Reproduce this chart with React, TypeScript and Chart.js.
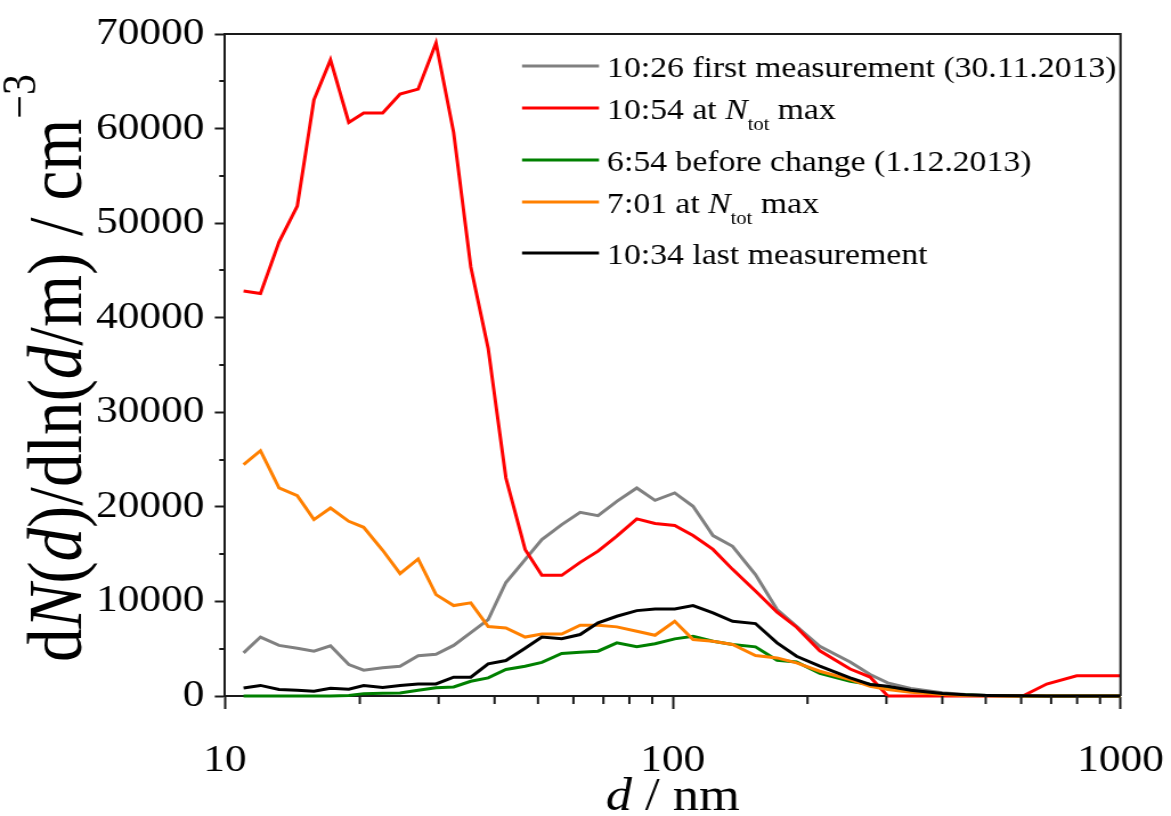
import React, { useEffect, useRef } from "react";
import { Chart, registerables } from "chart.js";

Chart.register(...registerables);

// ---------- DATA ----------
const diameters = [
  11.0, 12.0, 13.2, 14.5, 15.8, 17.2, 18.9, 20.4, 22.5, 24.6, 27.0, 29.6, 32.4, 35.4,
  38.7, 42.4, 46.8, 51.0, 56.5, 62.1, 68.1, 75.0, 83.1, 91.3, 101, 111, 123, 136, 153,
  171, 189, 213, 249, 276, 302, 340, 400, 450, 500, 605, 684, 798, 1000,
];

const firstMeasurement = [
  4560, 6230, 5350, 5050, 4740, 5300, 3330, 2730, 2980, 3150, 4260, 4420, 5350, 6700,
  8080, 12000, 14420, 16540, 18120, 19420, 19070, 20580, 22000, 20690, 21470, 20060,
  16960, 15830, 12840, 9140, 7380, 5260, 3600, 2270, 1390, 800, 340, 150, 80, 30, 10, 0, 0,
];

const ntotMaxDay1 = [
  42830, 42550, 48000, 51800, 63040, 67260, 60650, 61640, 61640, 63640, 64170, 69050,
  59600, 45360, 36760, 23050, 15500, 12760, 12760, 14130, 15320, 16900, 18730, 18240,
  18030, 16970, 15500, 13390, 11100, 8860, 7270, 4780, 2850, 2000, 0, 0, 0, 0, 0, 0,
  1265, 2140, 2140,
];

const beforeChange = [
  0, 0, 0, 0, 0, 0, 50, 250, 300, 330, 600, 860, 950, 1560, 1920, 2800, 3150, 3550,
  4490, 4630, 4740, 5620, 5200, 5520, 6040, 6320, 5790, 5440, 5200, 3780, 3600, 2400,
  1560, 1220, 900, 500, 200, 100, 40, 10, 0, 0, 0,
];

const ntotMaxDay2 = [
  24460, 25940, 22000, 21180, 18650, 19880, 18470, 17840, 15410, 12940, 14490, 10720,
  9560, 9850, 7350, 7200, 6230, 6550, 6550, 7480, 7480, 7310, 6850, 6420, 7900, 5970,
  5790, 5440, 4280, 4030, 3500, 2620, 1740, 1030, 690, 400, 160, 60, 20, 0, 0, 0, 0,
];

const lastMeasurement = [
  850, 1120, 690, 620, 510, 820, 720, 1110, 900, 1110, 1270, 1270, 1990, 1990, 3400,
  3750, 5050, 6230, 6060, 6500, 7730, 8430, 9030, 9210, 9210, 9560, 8790, 7900, 7660,
  5620, 4200, 3150, 1920, 1220, 1030, 600, 260, 120, 60, 20, 0, 0, 0,
];

const seriesLabels = [
  "10:26 first measurement (30.11.2013)",
  "10:54 at N_tot max",
  "6:54 before change (1.12.2013)",
  "7:01 at N_tot max",
  "10:34 last measurement",
];
const seriesValues = [firstMeasurement, ntotMaxDay1, beforeChange, ntotMaxDay2, lastMeasurement];
const seriesColors = ["#808080", "#ff0000", "#008000", "#ff8000", "#000000"];
const seriesOrder = [5, 4, 3, 2, 1];

const xMajorTicks = [10, 100, 1000];
const xMinorTicks = [20, 30, 40, 50, 60, 70, 80, 90, 200, 300, 400, 500, 600, 700, 800, 900];
const yMajorStep = 10000;
const yMinorTicks = [5000, 15000, 25000, 35000, 45000, 55000, 65000];
const yMax = 70000;

// ---------- STYLE ----------
// The figure is drawn on a narrower canvas and displayed stretched horizontally.
const DISPLAY_W = 1171;
const DISPLAY_H = 816;
const CANVAS_W = 1027;
const SX = DISPLAY_W / CANVAS_W;
const cx = (v: number) => v / SX; // display x -> canvas x

const SERIF = "'Liberation Serif', 'Times New Roman', Times, serif";
const TICK_SIZE = 38;
const XTITLE_SIZE = 46;
const YTITLE_SIZE = 67;
const LEGEND_SIZE = 29.6;
const AXIS_COLOR = "#1a1a1a";

type Seg = { t: string; style: "n" | "i" | "sub" | "sup" };

function setFont(ctx: CanvasRenderingContext2D, s: Seg, size: number) {
  if (s.style === "i") ctx.font = `italic ${size}px ${SERIF}`;
  else if (s.style === "sub" || s.style === "sup") ctx.font = `${Math.round(size * 0.62)}px ${SERIF}`;
  else ctx.font = `${size}px ${SERIF}`;
}
function segWidth(ctx: CanvasRenderingContext2D, s: Seg, size: number) {
  setFont(ctx, s, size);
  return ctx.measureText(s.t).width;
}
function drawSegs(ctx: CanvasRenderingContext2D, segs: Seg[], x: number, y: number, size: number) {
  let px = x;
  ctx.textBaseline = "alphabetic";
  ctx.textAlign = "left";
  for (const s of segs) {
    setFont(ctx, s, size);
    let dy = 0;
    if (s.style === "sub") dy = size * 0.36;
    if (s.style === "sup") dy = -size * 0.6;
    ctx.fillText(s.t, px, y + dy);
    px += ctx.measureText(s.t).width;
  }
  return px - x;
}
function totalWidth(ctx: CanvasRenderingContext2D, segs: Seg[], size: number) {
  return segs.reduce((a, s) => a + segWidth(ctx, s, size), 0);
}
function parseLabel(label: string): Seg[] {
  const idx = label.indexOf("N_tot");
  if (idx < 0) return [{ t: label, style: "n" }];
  return [
    { t: label.slice(0, idx), style: "n" },
    { t: "N", style: "i" },
    { t: "tot", style: "sub" },
    { t: label.slice(idx + 5), style: "n" },
  ];
}

const decorPlugin = {
  id: "decor",
  afterDatasetsDraw(chart: any) {
    const { ctx, chartArea } = chart;
    const xs = chart.scales.x;
    const ys = chart.scales.y;
    ctx.save();
    ctx.strokeStyle = AXIS_COLOR;
    ctx.lineWidth = 2;
    ctx.beginPath();
    ctx.moveTo(chartArea.left, chartArea.top);
    ctx.lineTo(chartArea.right, chartArea.top);
    ctx.lineTo(chartArea.right, chartArea.bottom);
    ctx.stroke();
    ctx.beginPath();
    for (const v of xMinorTicks) {
      const px = xs.getPixelForValue(v);
      ctx.moveTo(px, chartArea.bottom);
      ctx.lineTo(px, chartArea.bottom + 8);
    }
    for (const v of yMinorTicks) {
      const py = Math.round(ys.getPixelForValue(v));
      ctx.moveTo(chartArea.left, py);
      ctx.lineTo(chartArea.left - 5, py);
    }
    ctx.stroke();
    ctx.restore();
  },
  afterDraw(chart: any) {
    const { ctx, chartArea } = chart;
    ctx.save();
    ctx.fillStyle = "#000";
    // x title
    const xSegs: Seg[] = [
      { t: "d", style: "i" },
      { t: " / nm", style: "n" },
    ];
    const xw = totalWidth(ctx, xSegs, XTITLE_SIZE);
    const xc = (chartArea.left + chartArea.right) / 2;
    drawSegs(ctx, xSegs, xc - xw / 2, 810, XTITLE_SIZE);
    // y title
    const ySegs: Seg[] = [
      { t: "d", style: "n" },
      { t: "N", style: "i" },
      { t: "(", style: "n" },
      { t: "d", style: "i" },
      { t: ")/dln(", style: "n" },
      { t: "d", style: "i" },
      { t: "/m) / cm", style: "n" },
      { t: "−3", style: "sup" },
    ];
    const yw = totalWidth(ctx, ySegs, YTITLE_SIZE);
    const yc = (chartArea.top + chartArea.bottom) / 2 + 3;
    ctx.translate(cx(81), yc);
    ctx.rotate(-Math.PI / 2);
    drawSegs(ctx, ySegs, -yw / 2, 0, YTITLE_SIZE);
    ctx.restore();

    // legend
    const rows = [66, 108, 160, 202, 253];
    chart.data.datasets.forEach((ds: any, i: number) => {
      const y = rows[i];
      ctx.save();
      ctx.strokeStyle = ds.borderColor;
      ctx.lineWidth = 3;
      ctx.beginPath();
      ctx.moveTo(cx(522), y);
      ctx.lineTo(cx(599), y);
      ctx.stroke();
      ctx.fillStyle = "#000";
      drawSegs(ctx, parseLabel(ds.label), cx(607), y + 11, LEGEND_SIZE);
      ctx.restore();
    });
  },
};

export default function App() {
  const ref = useRef<HTMLCanvasElement | null>(null);
  useEffect(() => {
    document.body.style.margin = "0";
    const canvas = ref.current!;
    const datasets = seriesValues.map((vals, i) => ({
      label: seriesLabels[i],
      data: vals.map((v, j) => ({ x: diameters[j], y: v })),
      borderColor: seriesColors[i],
      backgroundColor: seriesColors[i],
      borderWidth: 3,
      pointRadius: 0,
      tension: 0,
      fill: false,
      order: seriesOrder[i],
      clip: 2,
    }));
    const chart = new Chart(canvas, {
      type: "line",
      data: { datasets },
      options: {
        animation: false,
        responsive: false,
        devicePixelRatio: 1,
        layout: { padding: { left: 0, top: 34, right: CANVAS_W - cx(1120.5), bottom: 0 } },
        plugins: { legend: { display: false }, tooltip: { enabled: false } },
        scales: {
          x: {
            type: "logarithmic",
            min: 10,
            max: 1000,
            afterBuildTicks: (s: any) => {
              s.ticks = xMajorTicks.map((v) => ({ value: v, major: true }));
            },
            afterFit: (s: any) => {
              s.height = DISPLAY_H - 696;
              s.paddingLeft = 0;
              s.paddingRight = 0;
            },
            ticks: {
              autoSkip: false,
              maxRotation: 0,
              padding: 29,
              color: "#000",
              font: { family: SERIF, size: TICK_SIZE },
              callback: (v: any) => String(v),
            },
            grid: {
              display: true,
              drawOnChartArea: false,
              drawTicks: true,
              tickLength: 13,
              tickWidth: 2,
              tickColor: AXIS_COLOR,
            },
            border: { display: true, color: AXIS_COLOR, width: 2 },
          },
          y: {
            type: "linear",
            min: 0,
            max: yMax,
            afterFit: (s: any) => {
              s.width = cx(225);
              s.paddingTop = 0;
              s.paddingBottom = 0;
            },
            ticks: {
              stepSize: yMajorStep,
              padding: 9,
              color: "#000",
              font: { family: SERIF, size: TICK_SIZE },
              callback: (v: any) => String(v),
            },
            grid: {
              display: true,
              drawOnChartArea: false,
              drawTicks: true,
              tickLength: 9,
              tickWidth: 2,
              tickColor: AXIS_COLOR,
            },
            border: { display: true, color: AXIS_COLOR, width: 2 },
          },
        },
      },
      plugins: [decorPlugin],
    });
    return () => chart.destroy();
  }, []);
  return (
    <div style={{ position: "absolute", left: 0, top: 0, background: "#fff" }}>
      <canvas
        ref={ref}
        width={CANVAS_W}
        height={DISPLAY_H}
        style={{ display: "block", width: `${DISPLAY_W}px`, height: `${DISPLAY_H}px` }}
      />
    </div>
  );
}
